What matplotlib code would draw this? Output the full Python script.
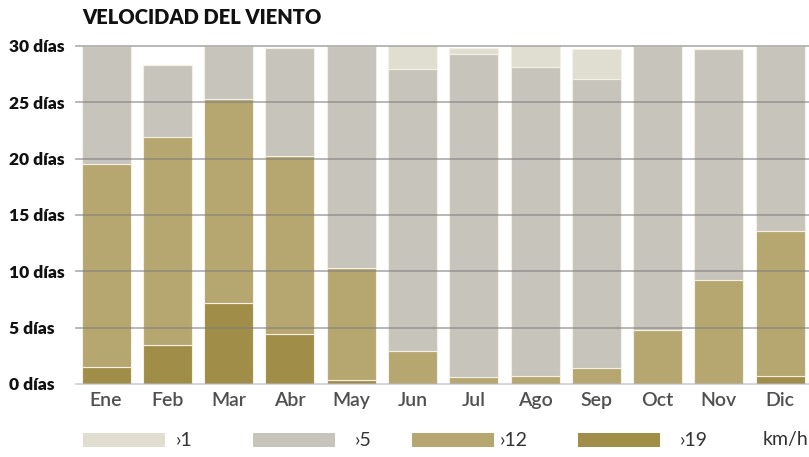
import matplotlib
matplotlib.use("Agg")
import matplotlib.pyplot as plt
from matplotlib.patches import Rectangle
import numpy as np

plt.rcParams['font.family'] = ['Lato', 'DejaVu Sans']

months = ["Ene", "Feb", "Mar", "Abr", "May", "Jun", "Jul", "Ago", "Sep", "Oct", "Nov", "Dic"]
# days per wind class (stacked, bottom to top)
d19 = [1.5, 3.5, 7.2, 4.4, 0.35, 0, 0, 0, 0, 0, 0, 0.7]
d12 = [18.0, 18.4, 18.1, 15.8, 9.95, 2.9, 0.6, 0.7, 1.4, 4.8, 9.2, 12.9]
d5 = [10.5, 6.4, 4.7, 9.6, 19.7, 25.1, 28.7, 27.4, 25.7, 25.2, 20.5, 16.4]
d1 = [0, 0, 0, 0, 0, 2.0, 0.5, 1.9, 2.6, 0, 0, 0]
series_labels = ["\u203a1", "\u203a5", "\u203a12", "\u203a19"]
unit_label = "km/h"
yticks = [0, 5, 10, 15, 20, 25, 30]
ytick_labels = [f"{v} días" for v in yticks]
title = "VELOCIDAD DEL VIENTO"

colors = {"1": "#e0ded1", "5": "#c6c4bb", "12": "#b6a770", "19": "#9f8d48"}

fig = plt.figure(figsize=(8.09, 4.57), dpi=100)
ax = fig.add_axes([76/809, 1-384/457, 1-76/809, (384-46)/457])

x = np.arange(len(months))
w = 0.8
b = np.zeros(len(months))
for vals, key in [(d19, "19"), (d12, "12"), (d5, "5"), (d1, "1")]:
    vals = np.array(vals, dtype=float)
    ax.bar(x, vals, w, bottom=b, color=colors[key], edgecolor="#f4f1e4", linewidth=0.8, zorder=2)
    b = b + vals

ax.set_xlim(-0.49, 11.47)
ax.set_ylim(0, 30)
for v in yticks:
    ax.axhline(v, color="#7f7f7f" if v > 0 else "#b4b4c4", lw=1.3, alpha=0.6, zorder=3, clip_on=False)

ax.set_yticks(yticks)
ax.set_yticklabels(ytick_labels, fontsize=12.5, fontweight="heavy", color="#111111")
for lab in ax.get_yticklabels():
    lab.set_horizontalalignment("left")
ax.tick_params(axis="y", length=0, pad=48)
ax.set_xticks(x)
ax.set_xticklabels(months, fontsize=14, color="#505050", fontweight="semibold")
ax.tick_params(axis="x", length=0, pad=6)
for s in ax.spines.values():
    s.set_visible(False)

fig.text(82/809, 1-18/457, title, fontsize=14.5, fontweight="heavy", color="#111111", va="center", ha="left")

# legend
leg_y = 1-440/457
patch_x = [83, 253, 412, 578]
text_x = [176, 355, 500, 680]
keys = ["1", "5", "12", "19"]
for px, tx, key, lab in zip(patch_x, text_x, keys, series_labels):
    fig.patches.append(Rectangle((px/809, leg_y - 7/457), 82/809, 14/457, transform=fig.transFigure,
                                 facecolor=colors[key], edgecolor="none"))
    fig.text(tx/809, leg_y, lab, fontsize=14, color="#333333", va="center", ha="left")
fig.text(763/809, leg_y, unit_label, fontsize=14, color="#333333", va="center", ha="left")

fig.savefig("out.png", dpi=100)
